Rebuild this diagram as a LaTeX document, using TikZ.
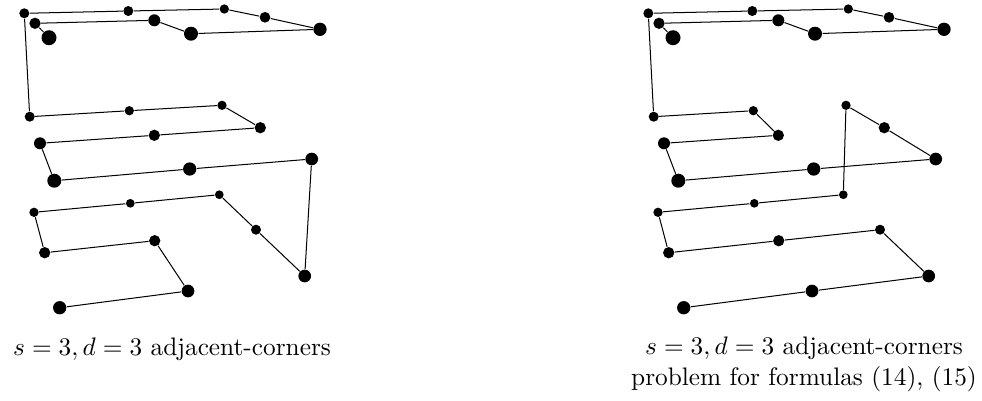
\documentclass[tikz,border=0pt]{standalone}
\usepackage{tikz}

% one unit = one pixel of a 982 x 400 canvas
\newcommand\gridpts[1]{%
  % top layer
  \node[dot=10.0] (#1A1) at (24.3,13.3) {};
  \node[dot=10.0] (#1A2) at (128.3,11) {};
  \node[dot=9.3]  (#1A3) at (224.3,9) {};
  \node[dot=10.7] (#1A4) at (265,17.3) {};
  \node[dot=13.3] (#1A5) at (320,29.3) {};
  \node[dot=14.0] (#1A6) at (191,33.7) {};
  \node[dot=12.0] (#1A7) at (154.3,20.3) {};
  \node[dot=11.3] (#1A8) at (35,23.3) {};
  \node[dot=15.0] (#1A9) at (49,37.7) {};
  % middle layer
  \node[dot=10.0] (#1B1) at (29.7,116.7) {};
  \node[dot=9.3]  (#1B2) at (129.3,110.7) {};
  \node[dot=9.3]  (#1B3) at (222,105.3) {};
  \node[dot=11.3] (#1B4) at (260.3,127.7) {};
  \node[dot=11.3] (#1B5) at (154.3,135.3) {};
  \node[dot=12.0] (#1B6) at (40,143.3) {};
  \node[dot=14.0] (#1B7) at (54.3,180.7) {};
  \node[dot=13.3] (#1B8) at (189.7,169) {};
  \node[dot=12.7] (#1B9) at (311.7,159) {};
  % bottom layer
  \node[dot=9.3]  (#1C1) at (34,212.3) {};
  \node[dot=8.7]  (#1C2) at (130.3,203.3) {};
  \node[dot=8.7]  (#1C3) at (219.3,194.7) {};
  \node[dot=10.0] (#1C4) at (256,229.7) {};
  \node[dot=12.7] (#1C5) at (304.7,276) {};
  \node[dot=11.3] (#1C6) at (44.7,252.7) {};
  \node[dot=11.3] (#1C7) at (154.7,240.7) {};
  \node[dot=12.7] (#1C8) at (188,291) {};
  \node[dot=13.3] (#1C9) at (59.7,307.7) {};
}

\begin{document}
\begin{tikzpicture}[x=0.3951pt, y=-0.3951pt,
  dot/.style={circle, fill=black, draw=none, inner sep=0pt, minimum size=#1*0.3951pt},
  path/.style={draw=black, line width=0.4pt},
  caption/.style={font=\normalsize, anchor=base, align=center, inner sep=0pt}]
  \useasboundingbox (0,0) rectangle (982,400);

  % left panel
  \gridpts{L}
  \draw[path] (LA9) -- (LA8) -- (LA7) -- (LA6) -- (LA5) -- (LA4) -- (LA3) -- (LA2) -- (LA1)
    -- (LB1) -- (LB2) -- (LB3) -- (LB4) -- (LB5) -- (LB6) -- (LB7) -- (LB8) -- (LB9)
    -- (LC5) -- (LC4) -- (LC3) -- (LC2) -- (LC1) -- (LC6) -- (LC7) -- (LC8) -- (LC9);
  \node[caption] (capL) at (172,355) {$s=3, d=3$ adjacent-corners};

  % right panel
  \begin{scope}[xshift=624*0.3951pt]
    \gridpts{R}
  \end{scope}
  \draw[path] (RA9) -- (RA8) -- (RA7) -- (RA6) -- (RA5) -- (RA4) -- (RA3) -- (RA2) -- (RA1)
    -- (RB1) -- (RB2) -- (RB5) -- (RB6) -- (RB7) -- (RB8) -- (RB9) -- (RB4) -- (RB3)
    -- (RC3) -- (RC2) -- (RC1) -- (RC6) -- (RC7) -- (RC4) -- (RC5) -- (RC8) -- (RC9);
  % two-line caption: the base anchor sits on the last line
  \node[caption] (capR) at (804,385) {$s=3, d=3$ adjacent-corners\\problem for formulas (14), (15)};
\end{tikzpicture}
\end{document}
